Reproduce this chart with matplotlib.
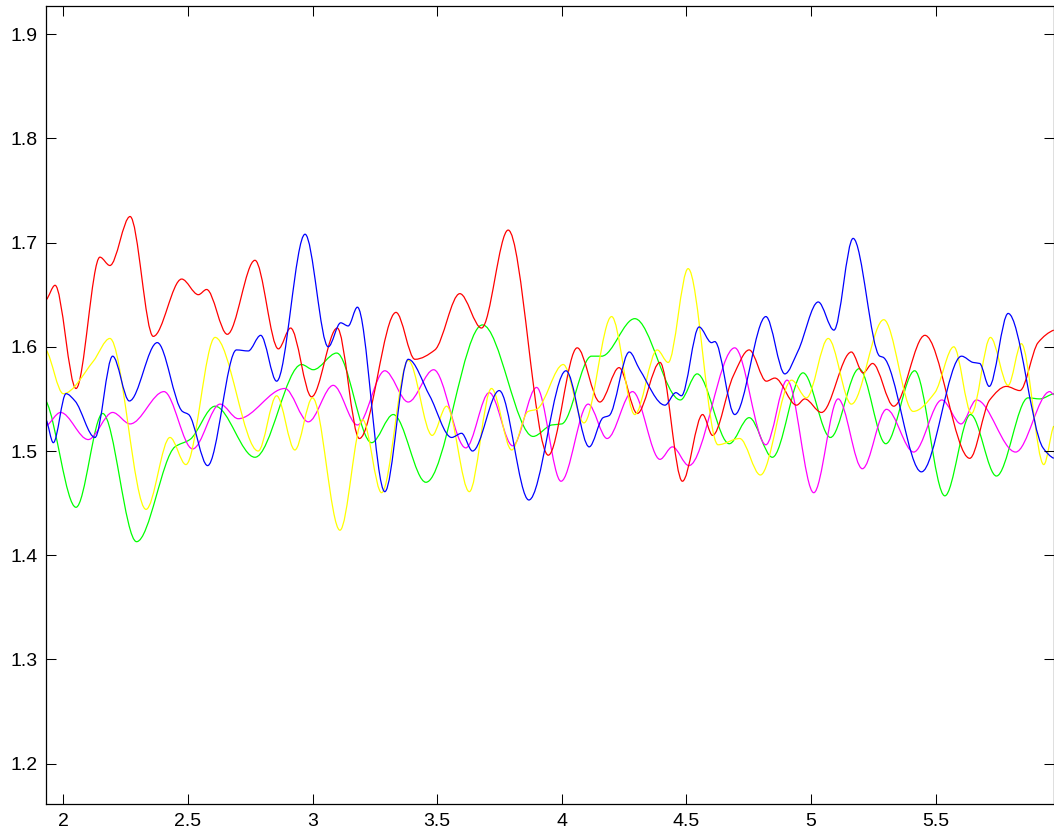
import numpy as np
import matplotlib
matplotlib.use("Agg")
import matplotlib.pyplot as plt
from matplotlib.path import Path
from matplotlib.patches import PathPatch

plt.rcParams['font.family'] = ['Liberation Sans', 'DejaVu Sans']

# ---- data (local extrema / shoulders) ----
red_x = [1.931, 1.967, 2.051, 2.147, 2.187, 2.268, 2.361, 2.475, 2.542, 2.575, 2.658, 2.769, 2.863, 2.912, 2.996, 3.099, 3.188, 3.335, 3.411, 3.491, 3.591, 3.678, 3.785, 3.946, 4.062, 4.153, 4.230, 4.303, 4.394, 4.484, 4.565, 4.605, 4.688, 4.752, 4.821, 4.855, 4.942, 4.975, 5.042, 5.162, 5.209, 5.247, 5.332, 5.457, 5.637, 5.717, 5.784, 5.838, 5.911, 5.974]
red_y = [1.645, 1.659, 1.560, 1.686, 1.678, 1.725, 1.610, 1.665, 1.650, 1.655, 1.612, 1.683, 1.598, 1.618, 1.552, 1.618, 1.512, 1.633, 1.588, 1.597, 1.651, 1.618, 1.712, 1.496, 1.599, 1.547, 1.580, 1.536, 1.585, 1.471, 1.535, 1.515, 1.572, 1.597, 1.567, 1.570, 1.544, 1.550, 1.537, 1.595, 1.575, 1.584, 1.543, 1.611, 1.493, 1.549, 1.562, 1.558, 1.604, 1.616]

blue_x = [1.931, 1.960, 2.011, 2.047, 2.127, 2.198, 2.265, 2.377, 2.478, 2.503, 2.579, 2.695, 2.742, 2.792, 2.856, 2.970, 3.063, 3.113, 3.143, 3.180, 3.290, 3.384, 3.470, 3.558, 3.598, 3.642, 3.749, 3.868, 4.017, 4.110, 4.166, 4.190, 4.271, 4.313, 4.414, 4.458, 4.480, 4.551, 4.601, 4.614, 4.694, 4.819, 4.895, 4.948, 5.029, 5.092, 5.169, 5.276, 5.289, 5.443, 5.604, 5.650, 5.677, 5.715, 5.791, 5.931, 5.974]
blue_y = [1.530, 1.508, 1.555, 1.548, 1.513, 1.591, 1.548, 1.604, 1.538, 1.535, 1.486, 1.597, 1.596, 1.611, 1.567, 1.708, 1.600, 1.623, 1.620, 1.638, 1.461, 1.588, 1.553, 1.513, 1.517, 1.500, 1.558, 1.453, 1.577, 1.504, 1.532, 1.534, 1.595, 1.578, 1.544, 1.556, 1.553, 1.619, 1.604, 1.605, 1.535, 1.629, 1.574, 1.596, 1.643, 1.616, 1.704, 1.591, 1.590, 1.480, 1.591, 1.585, 1.584, 1.562, 1.632, 1.503, 1.493]

green_x = [1.931, 2.051, 2.158, 2.294, 2.448, 2.508, 2.609, 2.769, 2.956, 3.003, 3.097, 3.237, 3.324, 3.455, 3.682, 3.885, 3.960, 4.000, 4.119, 4.160, 4.293, 4.476, 4.543, 4.672, 4.752, 4.845, 4.968, 5.078, 5.193, 5.300, 5.416, 5.537, 5.640, 5.744, 5.871, 5.918, 5.974]
green_y = [1.548, 1.446, 1.536, 1.413, 1.504, 1.511, 1.543, 1.494, 1.583, 1.578, 1.594, 1.508, 1.535, 1.470, 1.621, 1.514, 1.525, 1.526, 1.591, 1.591, 1.627, 1.549, 1.574, 1.507, 1.532, 1.494, 1.575, 1.513, 1.579, 1.507, 1.577, 1.457, 1.535, 1.476, 1.551, 1.550, 1.555]

yellow_x = [1.931, 2.000, 2.120, 2.187, 2.332, 2.428, 2.492, 2.609, 2.782, 2.856, 2.929, 3.000, 3.110, 3.201, 3.277, 3.384, 3.480, 3.538, 3.629, 3.718, 3.799, 3.865, 3.899, 4.006, 4.089, 4.200, 4.293, 4.383, 4.427, 4.507, 4.627, 4.714, 4.797, 4.922, 4.982, 5.069, 5.162, 5.292, 5.410, 5.497, 5.573, 5.644, 5.720, 5.791, 5.844, 5.934, 5.974]
yellow_y = [1.597, 1.555, 1.586, 1.608, 1.444, 1.513, 1.487, 1.609, 1.500, 1.553, 1.501, 1.551, 1.424, 1.530, 1.460, 1.587, 1.515, 1.543, 1.461, 1.560, 1.501, 1.538, 1.540, 1.583, 1.527, 1.629, 1.535, 1.597, 1.585, 1.675, 1.506, 1.512, 1.477, 1.568, 1.551, 1.608, 1.545, 1.626, 1.538, 1.556, 1.600, 1.536, 1.609, 1.563, 1.603, 1.487, 1.524]

magenta_x = [1.931, 1.989, 2.100, 2.198, 2.268, 2.404, 2.519, 2.629, 2.702, 2.889, 2.983, 3.083, 3.180, 3.290, 3.384, 3.486, 3.615, 3.709, 3.803, 3.899, 3.997, 4.106, 4.182, 4.284, 4.394, 4.444, 4.510, 4.694, 4.819, 4.904, 5.011, 5.109, 5.206, 5.303, 5.412, 5.525, 5.602, 5.664, 5.821, 5.958, 5.974]
magenta_y = [1.524, 1.537, 1.511, 1.537, 1.526, 1.557, 1.502, 1.545, 1.531, 1.560, 1.528, 1.563, 1.525, 1.577, 1.547, 1.578, 1.503, 1.556, 1.505, 1.561, 1.471, 1.545, 1.512, 1.557, 1.492, 1.504, 1.486, 1.599, 1.506, 1.568, 1.460, 1.550, 1.483, 1.540, 1.499, 1.549, 1.526, 1.549, 1.499, 1.557, 1.554]

x_ticks = [2, 2.5, 3, 3.5, 4, 4.5, 5, 5.5]
x_tick_labels = ['2', '2.5', '3', '3.5', '4', '4.5', '5', '5.5']
y_ticks = [1.2, 1.3, 1.4, 1.5, 1.6, 1.7, 1.8, 1.9]
y_tick_labels = ['1.2', '1.3', '1.4', '1.5', '1.6', '1.7', '1.8', '1.9']

# drawing order (bottom to top) as seen at the crossings in the reference
series = [
    (green_x, green_y, '#00ff00'),
    (magenta_x, magenta_y, '#ff00ff'),
    (red_x, red_y, '#ff0000'),
    (yellow_x, yellow_y, '#ffff00'),
    (blue_x, blue_y, '#0000ff'),
]


def smooth_path(xs, ys):
    """Smooth cubic Bezier path through the given points (monotone tangents)."""
    x = np.asarray(xs, float)
    y = np.asarray(ys, float)
    h = np.diff(x)
    d = np.diff(y) / h
    n = len(x)
    m = np.zeros(n)
    for k in range(1, n - 1):
        if d[k - 1] * d[k] > 0:
            w1 = 2 * h[k] + h[k - 1]
            w2 = h[k] + 2 * h[k - 1]
            m[k] = (w1 + w2) / (w1 / d[k - 1] + w2 / d[k])
    m[0] = 0.5 * d[0]
    m[-1] = 0.5 * d[-1]
    verts = [(x[0], y[0])]
    codes = [Path.MOVETO]
    for k in range(n - 1):
        verts.append((x[k] + h[k] / 3, y[k] + m[k] * h[k] / 3))
        verts.append((x[k + 1] - h[k] / 3, y[k + 1] - m[k + 1] * h[k] / 3))
        verts.append((x[k + 1], y[k + 1]))
        codes += [Path.CURVE4] * 3
    return Path(verts, codes)


fig = plt.figure(figsize=(10.54, 8.36), dpi=100)
ax = fig.add_axes([46 / 1054, 32 / 836, 1008 / 1054, 798 / 836])

for xs, ys, c in series:
    ax.add_patch(PathPatch(smooth_path(xs, ys), fill=False, edgecolor=c,
                           linewidth=0.9, transform=ax.transData))

ax.set_xlim(1.9306, 5.975)
ax.set_ylim(1.1613, 1.927)
ax.set_xticks(x_ticks)
ax.set_xticklabels(x_tick_labels)
ax.set_yticks(y_ticks)
ax.set_yticklabels(y_tick_labels)

ax.tick_params(direction='in', length=7.2, width=0.75, top=True, right=True,
               labelsize=14, colors='black')
ax.tick_params(axis='x', pad=6.5)
ax.tick_params(axis='y', pad=5.8)
for s in ax.spines.values():
    s.set_linewidth(0.9)
    s.set_color('black')

fig.savefig('out.png', dpi=100)
